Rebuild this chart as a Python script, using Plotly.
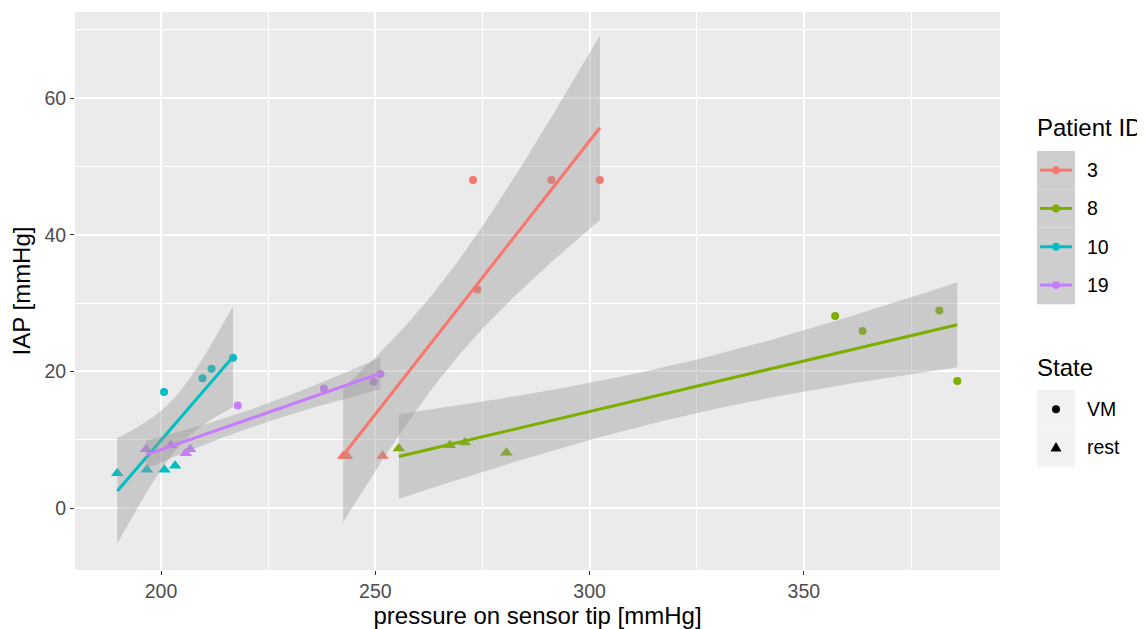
import numpy as np
import plotly.graph_objects as go

# ---------------- data ----------------
patients = ["3", "8", "10", "19"]
colors = ["#F8766D", "#7CAE00", "#00BFC4", "#C77CFF"]

p3_vm_x = [272.8, 291.1, 302.4, 273.8]
p3_vm_y = [48.0, 48.0, 48.0, 32.0]
p3_rest_x = [242.5, 243.0, 243.4, 251.7]
p3_rest_y = [7.6, 7.6, 7.6, 7.6]

p8_vm_x = [357.3, 363.7, 381.6, 385.8]
p8_vm_y = [28.1, 25.9, 28.9, 18.6]
p8_rest_x = [255.5, 267.4, 270.9, 280.6]
p8_rest_y = [8.7, 9.2, 9.6, 8.1]

p10_vm_x = [200.7, 209.7, 211.8, 216.8]
p10_vm_y = [17.0, 19.0, 20.4, 22.0]
p10_rest_x = [189.8, 196.7, 200.8, 203.3]
p10_rest_y = [5.1, 5.6, 5.6, 6.2]

p19_vm_x = [217.9, 238.0, 249.6, 251.2]
p19_vm_y = [15.0, 17.5, 18.5, 19.6]
p19_rest_x = [196.5, 202.3, 205.8, 206.8]
p19_rest_y = [8.6, 9.2, 8.0, 8.6]

vm_x = [p3_vm_x, p8_vm_x, p10_vm_x, p19_vm_x]
vm_y = [p3_vm_y, p8_vm_y, p10_vm_y, p19_vm_y]
rest_x = [p3_rest_x, p8_rest_x, p10_rest_x, p19_rest_x]
rest_y = [p3_rest_y, p8_rest_y, p10_rest_y, p19_rest_y]

x_ticks = [200, 250, 300, 350]
y_ticks = [0, 20, 40, 60]
x_range = [179.93, 395.76]
y_range = [-9.07, 72.6]

# t quantiles (0.975) by degrees of freedom
T975 = {1: 12.706, 2: 4.303, 3: 3.182, 4: 2.776, 5: 2.571, 6: 2.447, 7: 2.365,
        8: 2.306, 9: 2.262, 10: 2.228, 11: 2.201, 12: 2.179}


def lm_band(x, y):
    x = np.asarray(x, float)
    y = np.asarray(y, float)
    n = len(x)
    b1, b0 = np.polyfit(x, y, 1)
    resid = y - (b0 + b1 * x)
    s = np.sqrt(np.sum(resid ** 2) / (n - 2))
    xbar = x.mean()
    sxx = np.sum((x - xbar) ** 2)
    xs = np.linspace(x.min(), x.max(), 80)
    fit = b0 + b1 * xs
    se = s * np.sqrt(1.0 / n + (xs - xbar) ** 2 / sxx)
    t = T975[n - 2]
    return xs, fit, fit - t * se, fit + t * se


FONT = "Liberation Sans, Arial, sans-serif"
fig = go.Figure()

# points first (ribbons are drawn over them, as in ggplot)
for i, pid in enumerate(patients):
    fig.add_trace(go.Scatter(x=vm_x[i], y=vm_y[i], mode="markers",
                             marker=dict(symbol="circle", size=8, color=colors[i]),
                             showlegend=False, hoverinfo="x+y"))
    fig.add_trace(go.Scatter(x=rest_x[i], y=rest_y[i], mode="markers",
                             marker=dict(symbol="triangle-up", size=11, color=colors[i]),
                             showlegend=False, hoverinfo="x+y"))

# smooths: ribbon then line, per group
for i, pid in enumerate(patients):
    xs, fit, lo, hi = lm_band(vm_x[i] + rest_x[i], vm_y[i] + rest_y[i])
    fig.add_trace(go.Scatter(x=np.concatenate([xs, xs[::-1]]),
                             y=np.concatenate([hi, lo[::-1]]),
                             mode="lines", fill="toself",
                             fillcolor="rgba(153,153,153,0.4)",
                             line=dict(width=0), showlegend=False, hoverinfo="skip"))
    fig.add_trace(go.Scatter(x=xs, y=fit, mode="lines",
                             line=dict(color=colors[i], width=3),
                             showlegend=False, hoverinfo="skip"))

# ---------------- layout ----------------
# the page body adds an 8px offset; the figure is sized/shifted to compensate
OFF = 8
L, R, T, B = 75 - OFF, 1000 - OFF, 12 - OFF, 570 - OFF
W, H = 1145 - OFF, 629 - OFF


def px(x):
    return (x - OFF - L) / (R - L)


def py(y):
    return (B - (y - OFF)) / (B - T)


shapes = []
annotations = []

# legend: Patient ID
annotations.append(dict(text="Patient ID", x=px(1035), y=py(127), xref="paper", yref="paper",
                        xanchor="left", yanchor="middle", showarrow=False,
                        font=dict(size=24, color="black", family=FONT)))
key_h = 38.3
key_top = 151
for i, pid in enumerate(patients):
    y0 = key_top + i * key_h
    yc = y0 + key_h / 2
    shapes.append(dict(type="rect", xref="paper", yref="paper",
                       x0=px(1037), x1=px(1075), y0=py(y0), y1=py(y0 + key_h),
                       fillcolor="#CECECE", line=dict(width=0), layer="above"))
    shapes.append(dict(type="line", xref="paper", yref="paper",
                       x0=px(1040), x1=px(1072), y0=py(yc), y1=py(yc),
                       line=dict(color=colors[i], width=3), layer="above"))
    shapes.append(dict(type="circle", xref="paper", yref="paper",
                       x0=px(1052), x1=px(1060), y0=py(yc + 4), y1=py(yc - 4),
                       fillcolor=colors[i], line=dict(width=0), layer="above"))
    annotations.append(dict(text=pid, x=px(1085), y=py(yc), xref="paper", yref="paper",
                            xanchor="left", yanchor="middle", showarrow=False,
                            font=dict(size=19.5, color="black", family=FONT)))

# legend: State
annotations.append(dict(text="State", x=px(1035), y=py(367), xref="paper", yref="paper",
                        xanchor="left", yanchor="middle", showarrow=False,
                        font=dict(size=24, color="black", family=FONT)))
state_top = 390
states = ["VM", "rest"]
for j, st in enumerate(states):
    y0 = state_top + j * key_h
    yc = y0 + key_h / 2
    shapes.append(dict(type="rect", xref="paper", yref="paper",
                       x0=px(1037), x1=px(1075), y0=py(y0), y1=py(y0 + key_h),
                       fillcolor="#F2F2F2", line=dict(width=0), layer="above"))
    if st == "VM":
        shapes.append(dict(type="circle", xref="paper", yref="paper",
                           x0=px(1052), x1=px(1060), y0=py(yc + 4), y1=py(yc - 4),
                           fillcolor="black", line=dict(width=0), layer="above"))
    else:
        path = "M {} {} L {} {} L {} {} Z".format(px(1050.5), py(yc + 4), px(1061.5), py(yc + 4),
                                                  px(1056), py(yc - 5.5))
        shapes.append(dict(type="path", xref="paper", yref="paper", path=path,
                           fillcolor="black", line=dict(width=0), layer="above"))
    annotations.append(dict(text=st, x=px(1085), y=py(yc), xref="paper", yref="paper",
                            xanchor="left", yanchor="middle", showarrow=False,
                            font=dict(size=19.5, color="black", family=FONT)))

fig.update_layout(
    width=W, height=H,
    margin=dict(l=L, r=W - R, t=T, b=H - B, autoexpand=False),
    paper_bgcolor="white",
    plot_bgcolor="#EBEBEB",
    showlegend=False,
    shapes=shapes,
    annotations=annotations,
    font=dict(family=FONT),
    xaxis=dict(range=x_range, tickvals=x_ticks, ticktext=[str(v) for v in x_ticks],
               showgrid=True, gridcolor="white", gridwidth=2,
               minor=dict(dtick=25, tick0=0, showgrid=True, gridcolor="white", gridwidth=1),
               zeroline=False, ticks="outside", ticklen=4, tickwidth=1.2, tickcolor="#333333",
               tickfont=dict(size=19.5, color="#4D4D4D", family=FONT),
               title=dict(text="pressure on sensor tip [mmHg]", standoff=4,
                          font=dict(size=24, color="black", family=FONT)),
               automargin=False, showline=False),
    yaxis=dict(range=y_range, tickvals=y_ticks, ticktext=[str(v) for v in y_ticks],
               showgrid=True, gridcolor="white", gridwidth=2,
               minor=dict(dtick=10, tick0=0, showgrid=True, gridcolor="white", gridwidth=1),
               zeroline=False, ticks="outside", ticklen=4, tickwidth=1.2, tickcolor="#333333",
               tickfont=dict(size=19.5, color="#4D4D4D", family=FONT),
               title=dict(text="IAP [mmHg]", standoff=6,
                          font=dict(size=24, color="black", family=FONT)),
               automargin=False, showline=False),
)

fig.write_html("out.html")
